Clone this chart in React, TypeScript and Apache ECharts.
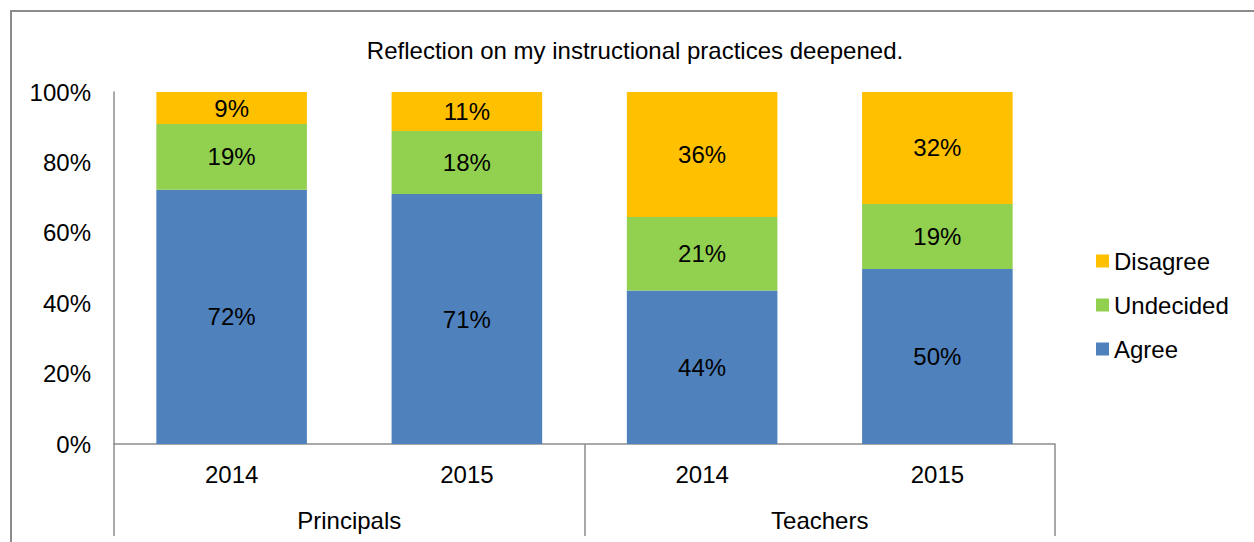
import React, { useEffect, useRef } from "react";
import * as echarts from "echarts";

const titleText = "Reflection on my instructional practices deepened.";
const years = ["2014", "2015", "2014", "2015"];
const groups = ["Principals", "Teachers"];
const agree = [72.2, 71.0, 43.6, 49.7];
const undecided = [18.7, 17.9, 20.9, 18.5];
const disagree = [9.1, 11.1, 35.5, 31.8];
const yTicks = [0, 20, 40, 60, 80, 100];

const FONT = "Liberation Sans, Arial, Helvetica, sans-serif";
const GREY = "#8c8c8c";
const FS = 24;

export default function App() {
  const ref = useRef<HTMLDivElement>(null);
  useEffect(() => {
    document.body.style.margin = "0";
    const chart = echarts.init(ref.current!, undefined, { renderer: "svg" });
    const label = {
      show: true,
      position: "inside",
      color: "#000",
      fontSize: FS,
      fontFamily: FONT,
      formatter: (p: any) => Math.round(p.value) + "%",
    };
    const mk = (name: string, data: number[], color: string) => ({
      name,
      type: "bar",
      stack: "total",
      barWidth: "64%",
      data,
      itemStyle: { color },
      label,
    });
    chart.setOption({
      animation: false,
      textStyle: { fontFamily: FONT },
      title: {
        text: titleText,
        left: 630,
        textAlign: "center",
        top: 33,
        textStyle: { fontSize: FS, fontWeight: "normal", color: "#000", fontFamily: FONT },
      },
      legend: {
        orient: "vertical",
        left: 1091,
        top: 244,
        itemWidth: 13,
        itemHeight: 13,
        itemGap: 20,
        icon: "rect",
        data: ["Disagree", "Undecided", "Agree"],
        textStyle: { fontSize: FS, color: "#000", fontFamily: FONT },
      },
      grid: { left: 114, right: 199, top: 92, bottom: 98, containLabel: false },
      xAxis: [
        {
          type: "category",
          data: years,
          position: "bottom",
          axisLine: { show: true, lineStyle: { color: GREY, width: 1.5 } },
          axisTick: { show: false },
          axisLabel: { margin: 18, fontSize: FS, color: "#000", fontFamily: FONT },
        },
        {
          type: "category",
          data: groups,
          position: "bottom",
          axisLine: { show: false },
          axisTick: { show: true, length: 92, lineStyle: { color: GREY, width: 1.5 } },
          axisLabel: { margin: 64, fontSize: FS, color: "#000", fontFamily: FONT },
        },
      ],
      yAxis: {
        type: "value",
        min: yTicks[0],
        max: yTicks[yTicks.length - 1],
        interval: 20,
        axisLine: { show: true, lineStyle: { color: GREY, width: 1.5 } },
        axisTick: { show: false },
        splitLine: { show: false },
        axisLabel: { margin: 23, fontSize: FS, color: "#000", fontFamily: FONT, formatter: "{value}%" },
      },
      graphic: [
        {
          type: "rect",
          shape: { x: 11, y: 11, width: 1400, height: 700 },
          style: { fill: "none", stroke: GREY, lineWidth: 2 },
          silent: true,
        },
      ],
      series: [
        mk("Agree", agree, "#4f81bd"),
        mk("Undecided", undecided, "#92d050"),
        mk("Disagree", disagree, "#ffc000"),
      ],
    });
    return () => chart.dispose();
  }, []);
  return (
    <div
      ref={ref}
      style={{ position: "absolute", left: 0, top: 0, width: 1254, height: 542, background: "#fff" }}
    />
  );
}
